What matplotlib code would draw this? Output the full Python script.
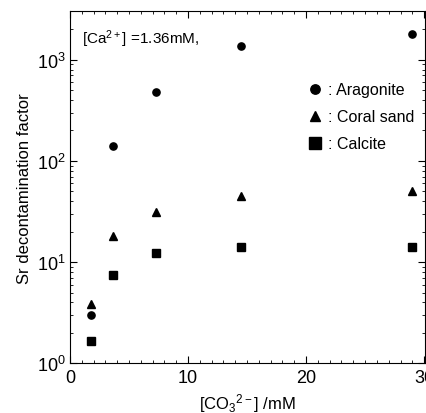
import numpy as np
import matplotlib
matplotlib.use('Agg')
import matplotlib.pyplot as plt
from matplotlib.ticker import MultipleLocator, LogLocator, NullFormatter

plt.rcParams['font.family'] = ['Liberation Sans', 'DejaVu Sans']
plt.rcParams['mathtext.fontset'] = 'custom'
plt.rcParams['mathtext.rm'] = 'Liberation Sans'
plt.rcParams['mathtext.it'] = 'Liberation Sans'

# [CO3 2-] concentration (mM)
co3 = [1.8, 3.6, 7.25, 14.5, 29.0]
# Sr decontamination factor
aragonite = [3.0, 139, 475, 1380, 1790]
coral_sand = [3.85, 18.1, 31, 45, 51]
calcite = [1.67, 7.4, 12.4, 14.0, 14.0]

fig = plt.figure(figsize=(4.27, 4.14), dpi=100)
ax = fig.add_axes([0.164, 0.12, 0.832, 0.85])

ax.plot(co3, aragonite, 'o', color='black', ms=5.2, label=': Aragonite')
ax.plot(co3, coral_sand, '^', color='black', ms=5.5, label=': Coral sand')
ax.plot(co3, calcite, 's', color='black', ms=6.2, label=': Calcite')

ax.set_yscale('log')
ax.set_xlim(0, 30.1)
ax.set_ylim(1, 3000)

ax.xaxis.set_major_locator(MultipleLocator(10))
ax.xaxis.set_minor_locator(MultipleLocator(1))
ax.yaxis.set_major_locator(LogLocator(base=10, numticks=10))
ax.yaxis.set_minor_locator(LogLocator(base=10, subs=np.arange(2, 10), numticks=10))
ax.yaxis.set_minor_formatter(NullFormatter())

ax.tick_params(which='both', direction='in', top=True, right=True, labelsize=13)
ax.tick_params(which='major', length=5, width=0.8)
ax.tick_params(which='minor', length=2.5, width=0.6)
ax.tick_params(axis='x', pad=4)
ax.tick_params(axis='y', pad=3)

ax.set_xlabel('[CO$_3$$^{2\u2212}$] /mM', fontsize=12, labelpad=4)
ax.set_ylabel('Sr decontamination factor', fontsize=12, labelpad=4)

ax.text(0.035, 0.925, '[Ca$^{2+}$] =1.36mM,', transform=ax.transAxes,
        fontsize=11, va='center', ha='left')

ax.legend(loc='upper right', bbox_to_anchor=(1.0, 0.83), frameon=False,
          fontsize=11.5, handletextpad=0.05, labelspacing=0.75,
          handlelength=1.5, borderaxespad=0.3, markerscale=1.3)

fig.savefig('out.png', dpi=100)
